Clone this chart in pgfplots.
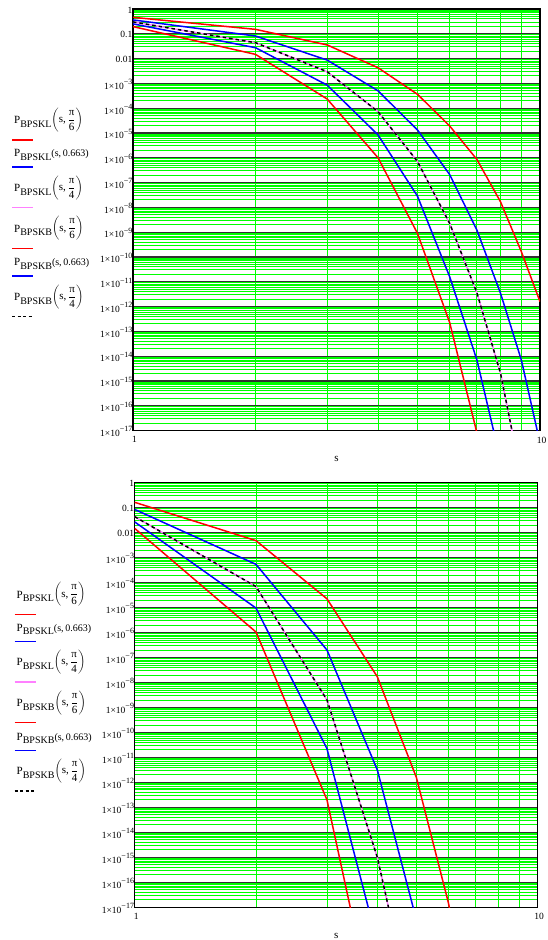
\documentclass[border=0pt]{standalone}
\usepackage{fontspec}
\setmainfont{Liberation Serif}
\usepackage{pgfplots}
\pgfplotsset{compat=1.18}
\definecolor{pinkc}{RGB}{255,128,255}
\newcommand\minorlist{1}
\foreach \e in {-17,...,-1}{\foreach \m in {2,...,9}{\xdef\minorlist{\minorlist,\m e\e}}}
\edef\tmp{\noexpand\pgfplotsset{myminor/.style={minor ytick={\minorlist}}}}\tmp
\newcommand\tl[1]{1×10\raisebox{4.5pt}{\fontsize{8}{8}\selectfont −#1}}
\newcommand\Pn[1]{P\raisebox{-3.5pt}{\fontsize{10}{10}\selectfont #1}}
\newcommand\fr[1]{\raisebox{1pt}{$\left(\mbox{s,\,}\displaystyle\frac{\mbox{π}}{\mbox{#1}}\right)$}}
\newcommand\pz{{\fontsize{10}{10}\selectfont(s,\,0.663)}}
\newcommand\leg[5]{%
 \draw[#4, line width=1.5pt] (#1pt,#2pt) -- ++(21pt,0);
 \node[anchor=base west, inner sep=0pt, font=\fontsize{11}{13}\selectfont] at (#1pt+2pt, #2pt+#3pt) {#5};
}
\pgfplotsset{
 mcstyle/.style={
  scale only axis,
  xmin=1, xmax=10, ymin=1e-17, ymax=1,
  xtick={1,10}, xticklabels={1,10},
  minor xtick={2,3,4,5,6,7,8,9},
  ytick={1e-17,1e-16,1e-15,1e-14,1e-13,1e-12,1e-11,1e-10,1e-9,1e-8,1e-7,1e-6,1e-5,1e-4,1e-3,1e-2,1e-1,1},
  yticklabels={\tl{17},\tl{16},\tl{15},\tl{14},\tl{13},\tl{12},\tl{11},\tl{10},\tl{9},\tl{8},\tl{7},\tl{6},\tl{5},\tl{4},\tl{3},0.01,0.1,1},
  myminor,
  xmajorgrids, xminorgrids, ymajorgrids, yminorgrids,
  major grid style={black!80, line width=1.2pt},
  minor grid style={green, line width=0.9pt},
  major tick length=0pt, minor tick length=0pt,
  axis line style={line width=1.2pt},
  tick label style={font=\fontsize{9.5}{10}\selectfont},
  yticklabel style={anchor=east, inner sep=0.5pt, yshift=-1pt},
  xticklabel style={anchor=north, inner sep=0pt, yshift=-6pt, xshift=1.5pt},
  xlabel={s},
  xlabel style={at={(axis description cs:0.5,0)}, anchor=center, yshift=-28.5pt, font=\fontsize{11}{12}\selectfont},
  every axis plot/.append style={line width=1.5pt, mark=none},
 }
}
\begin{document}
\begin{tikzpicture}
\begin{axis}[xmode=log, ymode=log, mcstyle, at={(133pt,509.5pt)}, anchor=south west, width=407pt, height=421.5pt]
\addplot[red] coordinates {(1,0.462)(2,0.151)(3,0.0355)(4,4.27e-3)(5,3.63e-4)(6,1.91e-5)(7,8.51e-7)(8,1.66e-8)(9,1.62e-10)(10,1.58e-12)};
\addplot[blue] coordinates {(1,0.363)(2,0.0813)(3,8.71e-3)(4,5.01e-4)(5,1.32e-5)(6,2.09e-7)(7,1.20e-9)(8,3.39e-12)(9,6.92e-15)(10,3.16e-18)};
\addplot[pinkc] coordinates {(1,0.302)(2,0.0437)(3,2.95e-3)(4,7.24e-5)(5,7.08e-7)(6,2.24e-9)(7,3.55e-12)(8,2.0e-15)(9,1.26e-19)};
\addplot[red] coordinates {(1,0.195)(2,0.0148)(3,2.34e-4)(4,1.0e-6)(5,8.91e-10)(6,2.24e-13)(7,7.94e-18)};
\addplot[blue] coordinates {(1,0.251)(2,0.0275)(3,8.51e-4)(4,8.32e-6)(5,2.82e-8)(6,1.58e-11)(7,6.92e-15)(8,6.31e-19)};
\addplot[black, dash pattern=on 3.5pt off 3pt] coordinates {(1,0.302)(2,0.0437)(3,2.95e-3)(4,7.24e-5)(5,7.08e-7)(6,2.24e-9)(7,3.55e-12)(8,2.0e-15)(9,1.26e-19)};
\end{axis}
\begin{axis}[xmode=log, ymode=log, mcstyle, at={(134.7pt,32.7pt)}, anchor=south west, width=403pt, height=424.6pt]
\addplot[red] coordinates {(1,0.164)(2,4.79e-3)(3,2.24e-5)(4,1.70e-8)(5,1.58e-12)(6,1.58e-17)(7,1e-22)};
\addplot[blue] coordinates {(1,0.0851)(2,5.37e-4)(3,2.0e-7)(4,3.16e-12)(5,3.16e-18)};
\addplot[pinkc] coordinates {(1,0.0437)(2,6.92e-5)(3,2.0e-9)(4,1e-15)(5,1e-22)};
\addplot[red] coordinates {(1,0.0148)(2,1.05e-6)(3,2.0e-13)(4,1e-22)};
\addplot[blue] coordinates {(1,0.0269)(2,9.55e-6)(3,2.24e-11)(4,3.98e-19)};
\addplot[black, dash pattern=on 3.5pt off 3pt] coordinates {(1,0.0437)(2,6.92e-5)(3,2.0e-9)(4,1e-15)(5,1e-22)};
\end{axis}
% legends
\leg{12}{800}{16}{red}{\Pn{BPSKL}\fr{6}}
\leg{12}{773}{10}{blue}{\Pn{BPSKL}\pz}
\leg{12}{732.3}{16}{pinkc}{\Pn{BPSKL}\fr{4}}
\leg{12}{691.7}{16}{red}{\Pn{BPSKB}\fr{6}}
\leg{12}{664}{10}{blue}{\Pn{BPSKB}\pz}
\leg{12}{623.3}{16}{black, dash pattern=on 3pt off 2.5pt}{\Pn{BPSKB}\fr{4}}
\leg{14.5}{325.7}{16}{red}{\Pn{BPSKL}\fr{6}}
\leg{14.5}{298.7}{10}{blue}{\Pn{BPSKL}\pz}
\leg{14.5}{258}{16}{pinkc}{\Pn{BPSKL}\fr{4}}
\leg{14.5}{217.4}{16}{red}{\Pn{BPSKB}\fr{6}}
\leg{14.5}{189.7}{10}{blue}{\Pn{BPSKB}\pz}
\leg{14.5}{149}{16}{black, dash pattern=on 3pt off 2.5pt}{\Pn{BPSKB}\fr{4}}
\pgfresetboundingbox
\useasboundingbox (0,0) rectangle (547pt,940pt);
\end{tikzpicture}
\end{document}
